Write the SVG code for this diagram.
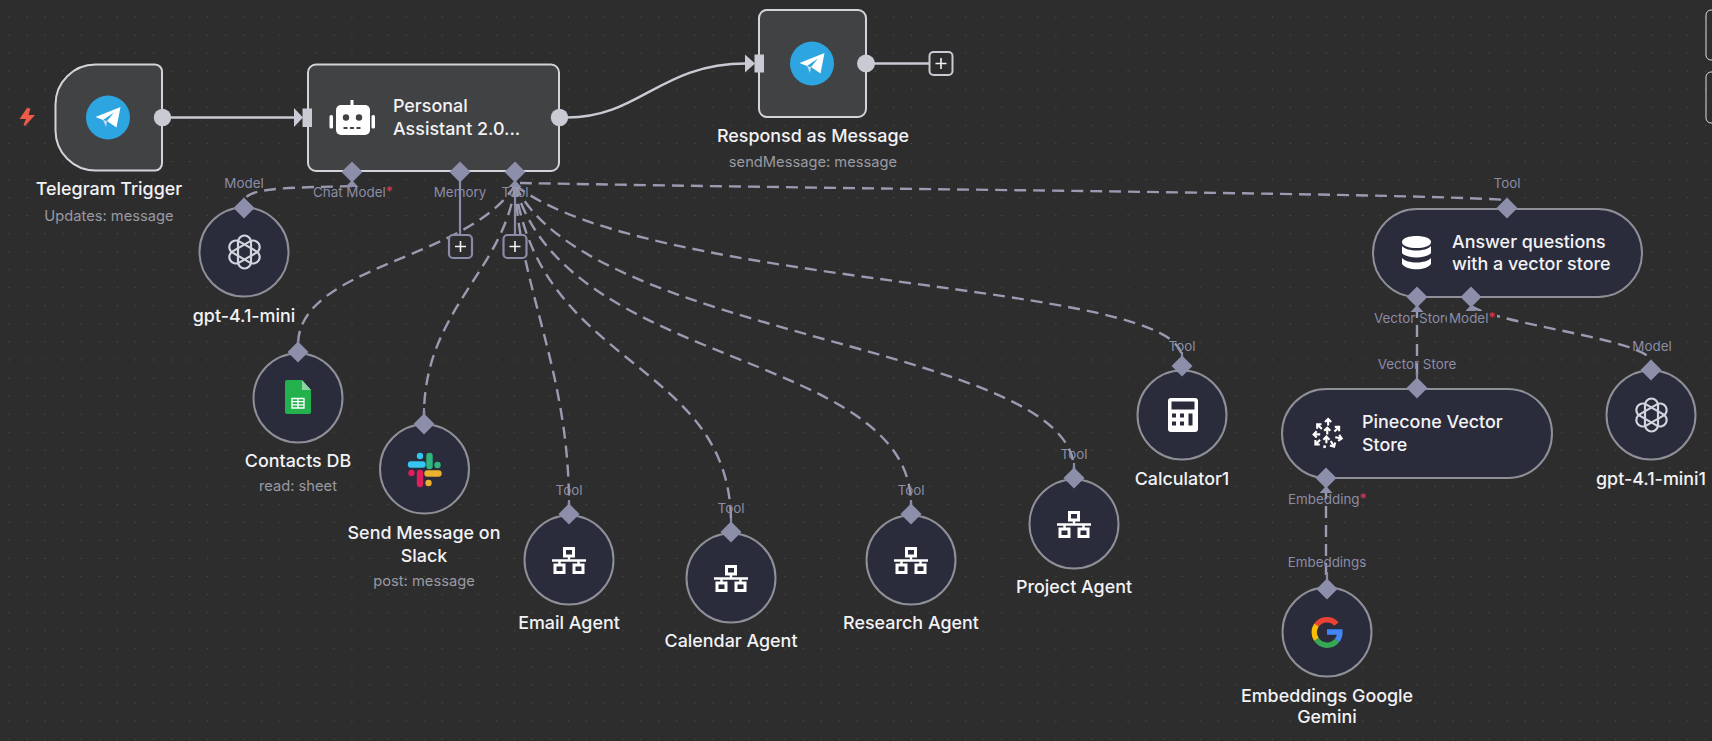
<svg xmlns="http://www.w3.org/2000/svg" xmlns:xlink="http://www.w3.org/1999/xlink" width="1712" height="741" viewBox="0 0 1712 741">
<style>
text{font-family:Inter,"Noto Sans","Liberation Sans",sans-serif}
.t{font-size:17.9px;font-weight:500;fill:#f2f2f5;text-anchor:middle}
.in{font-size:17.9px;font-weight:500;fill:#f2f2f5}
.s{font-size:14.7px;fill:#9a9aa3;text-anchor:middle}
.p{font-size:13.4px;fill:#8b8ca6;text-anchor:middle}
.pl{font-size:13.4px;fill:#8b8ca6}
.star{font-size:14px;fill:#e8344e}
.main{fill:#414244;stroke:#d3d4da;stroke-width:2}
.sub{fill:#2a2c3b;stroke:#8f8f98;stroke-width:2}
.d{fill:#8d8eaa}
.e{fill:none;stroke:#9a9ab0;stroke-width:2.4;stroke-dasharray:12 7}
.l{fill:none;stroke:#8a8ba8;stroke-width:2.2}
.m{fill:none;stroke:#c9cad3;stroke-width:2.4}
.port{fill:#c9cad3}
.plus{fill:#2d2d2d;stroke-width:2.2;stroke:#8a8ba8}
.cross{stroke:#f2f2f5;stroke-width:1.6}
</style>
<defs>
<pattern id="dots" width="18.05" height="18.05" patternUnits="userSpaceOnUse" x="0" y="-0.55">
<rect x="8.4" y="17.5" width="1.2" height="1.2" fill="#6a6a6a"/>
</pattern>
<polygon id="dia" class="d" points="0,-10.5 10.5,0 0,10.5 -10.5,0"/>
<polygon id="tri" class="d" points="0,8 6.5,15 -6.5,15"/>
<g id="tg">
<circle r="22" fill="#2ca5e0"/>
<path d="M-12.5,-0.5 L12.5,-10.5 L8.5,10 L-1,3.5 L6,-5 L-5,2.5 Z" fill="#fff"/>
<path d="M-5,2.500 L-1,3.500 L-2,9.500 Z" fill="#c9dcea"/>
</g>
<g id="oai" fill="none" stroke="#d3d5de" stroke-width="2.2">
<rect x="-6.500" y="-16.500" width="13" height="33" rx="6.500"/>
<rect x="-6.500" y="-16.500" width="13" height="33" rx="6.500" transform="rotate(60)"/>
<rect x="-6.500" y="-16.500" width="13" height="33" rx="6.500" transform="rotate(120)"/>
</g>
<g id="net" fill="none" stroke="#fff" stroke-width="3">
<rect x="-4.500" y="-11.500" width="9" height="7.500"/>
<path d="M0,-4 V0 M-17,0.500 H17 M-9.500,0 V4" stroke-width="2.400"/>
<path d="M9.500,0 V4" stroke-width="2.400"/>
<rect x="-14" y="5" width="9" height="7.500"/>
<rect x="5" y="5" width="9" height="7.500"/>
</g>
<path id="arw" d="M0,4 V-3 M-3.500,0 L0,-3.500 L3.500,0" fill="none" stroke="#fff" stroke-width="2.400"/>
</defs>
<rect width="1712" height="741" fill="#2d2d2d"/>
<rect width="1712" height="741" fill="url(#dots)"/>
<rect x="1706" y="10" width="30" height="50" rx="5" fill="none" stroke="#dcdcdc" stroke-width="1"/>
<rect x="1706" y="72" width="30" height="51" rx="5" fill="none" stroke="#dcdcdc" stroke-width="1"/>

<g id="connectors">
<path class="m" d="M170,117.500 H296"/>
<path class="m" d="M567,117.500 C640,117.500 660,63.500 746,63.500"/>
<path class="m" d="M874,63.500 H929"/>
<path class="l" d="M460,176 V235"/>
<path class="l" d="M515,176 V235"/>
<path class="e" d="M352,186 C300,188 244,186 244,202"/>
<path class="e" d="M520,183 C900,190 1400,193 1507,200"/>
<path class="e" d="M515,185 C470,260 298,265 298,345"/>
<path class="e" d="M515,185 C505,270 424,310 424,415"/>
<path class="e" d="M515,185 C520,290 569,370 569,505"/>
<path class="e" d="M515,185 C540,370 731,360 731,523"/>
<path class="e" d="M515,185 C565,370 911,350 911,505"/>
<path class="e" d="M515,185 C590,340 1074,345 1074,470"/>
<path class="e" d="M515,185 C650,290 1182,280 1182,358"/>
<path class="e" d="M1417,306 V380"/>
<path class="e" d="M1471,306 C1500,325 1652,340 1651,362"/>
<path class="e" d="M1326,487 V580"/>
<path class="l" d="M298,340 V352 M424,408 V424 M569,500 V514 M731,518 V532 M911,500 V514 M1074,463 V478 M1182,352 V366 M1417,372 V388 M1327,572 V589"/>
</g>

<g id="telegram-trigger">
<path class="main" d="M162,72 V163 A7,7 0 0 1 155,170.500 H95.500 A40,40 0 0 1 55.500,130.500 V104.500 A40,40 0 0 1 95.500,64.500 H155 A7,7 0 0 1 162,72 Z"/>
<use href="#tg" xlink:href="#tg" transform="translate(108,117.500)"/>
<circle class="port" cx="162.500" cy="117.500" r="8.700"/>
<polygon points="19.500,119 27,108 30.500,108.500 28.500,115 35,115 25,126 23.500,125 26,119" fill="#ee5a4a"/>
<text class="t" x="109" y="195">Telegram Trigger</text>
<text class="s" x="109" y="221">Updates: message</text>
</g>

<g id="personal-assistant">
<rect class="main" x="308" y="64.500" width="251" height="106.500" rx="8"/>
<polygon class="port" points="294,108 303,117.500 294,127"/>
<rect class="port" x="302.500" y="108.500" width="9.500" height="18.500"/>
<circle class="port" cx="559.500" cy="117.500" r="8.700"/>
<g fill="#fff">
<rect x="350.500" y="100" width="3" height="6"/>
<rect x="336" y="105" width="34" height="30" rx="5"/>
<rect x="329.500" y="115" width="3.500" height="13.500" rx="1.500"/>
<rect x="371.500" y="115" width="3.500" height="13.500" rx="1.500"/>
</g>
<circle cx="346" cy="117.500" r="3.200" fill="#414244"/>
<circle cx="359" cy="117.500" r="3.200" fill="#414244"/>
<path d="M343.500,128 H362" stroke="#414244" stroke-width="2" stroke-dasharray="4 2.500"/>
<text class="in" x="393" y="112">Personal</text>
<text class="in" x="393" y="135">Assistant 2.0...</text>
<use href="#dia" xlink:href="#dia" transform="translate(352,172)"/>
<use href="#dia" xlink:href="#dia" transform="translate(460,172)"/>
<use href="#dia" xlink:href="#dia" transform="translate(515,172)"/>
<use href="#tri" xlink:href="#tri" transform="translate(352,172)"/>
<use href="#tri" xlink:href="#tri" transform="translate(515,172)"/>
<text class="pl" x="313" y="197">Chat Model<tspan class="star">*</tspan></text>
<text class="p" x="460" y="197">Memory</text>
<text class="p" x="515" y="197">Tool</text>
</g>

<g id="plus-memory">
<rect class="plus" x="449" y="235" width="23" height="23" rx="4"/>
<path class="cross" d="M460.500,241 V252 M455,246.500 H466"/>
</g>
<g id="plus-tool">
<rect class="plus" x="503.500" y="235" width="23" height="23" rx="4"/>
<path class="cross" d="M515,241 V252 M509.500,246.500 H520.500"/>
</g>

<g id="respond-message">
<rect class="main" x="759" y="10" width="107" height="107" rx="8"/>
<polygon class="port" points="745,54.500 755,63.500 745,72.500"/>
<rect class="port" x="754.500" y="54.500" width="9.500" height="18"/>
<use href="#tg" xlink:href="#tg" transform="translate(812,63.500)"/>
<circle class="port" cx="866" cy="63.500" r="9"/>
<text class="t" x="813" y="142">Responsd as Message</text>
<text class="s" x="813" y="167">sendMessage: message</text>
</g>
<g id="plus-respond">
<rect x="929.500" y="52" width="23" height="23" rx="4" fill="#2d2d2d" stroke="#c9cad3" stroke-width="2"/>
<path class="cross" d="M941,58 V69 M935.500,63.500 H946.500"/>
</g>

<g id="gpt-mini">
<circle class="sub" cx="244" cy="252" r="44.500"/>
<use href="#oai" xlink:href="#oai" transform="translate(244.500,252)"/>
<use href="#dia" xlink:href="#dia" transform="translate(244,208)"/>
<text class="p" x="244" y="188">Model</text>
<text class="t" x="244" y="322">gpt-4.1-mini</text>
</g>

<g id="contacts-db">
<circle class="sub" cx="298" cy="398" r="44.500"/>
<path d="M287,380 H302 L311,390 V412 A2,2 0 0 1 309,414 H287 A2,2 0 0 1 285,412 V382 A2,2 0 0 1 287,380 Z" fill="#23b14d"/>
<path d="M302,380 L311,390 H302 Z" fill="#8ed1a3"/>
<path d="M292,398.500 H304 V408 H292 Z M292,401.700 H304 M292,404.900 H304 M298,398.500 V408" fill="none" stroke="#fff" stroke-width="1.300"/>
<use href="#dia" xlink:href="#dia" transform="translate(298,352)"/>
<text class="t" x="298" y="467">Contacts DB</text>
<text class="s" x="298" y="491">read: sheet</text>
</g>

<g id="send-slack">
<circle class="sub" cx="424.500" cy="469" r="44.500"/>
<g fill="none" stroke-linecap="round" stroke-width="6.400">
<path d="M411,464.500 H422.500" stroke="#36c5f0"/>
<path d="M429.500,456 V466" stroke="#2eb67d"/>
<path d="M427.500,473.500 H438.500" stroke="#ecb22e"/>
<path d="M420,473 V484" stroke="#e01e5a"/>
<path d="M420,456 V456.100" stroke="#36c5f0"/>
<path d="M437.500,465 V465.100" stroke="#2eb67d"/>
<path d="M428.500,483 V483.100" stroke="#ecb22e"/>
<path d="M411.500,473 V473.100" stroke="#e01e5a"/>
</g>
<use href="#dia" xlink:href="#dia" transform="translate(424,424)"/>
<text class="t" x="424" y="539">Send Message on</text>
<text class="t" x="424" y="562">Slack</text>
<text class="s" x="424" y="586">post: message</text>
</g>

<g id="email-agent">
<circle class="sub" cx="569" cy="560" r="44.500"/>
<use href="#net" xlink:href="#net" transform="translate(569,560)"/>
<use href="#dia" xlink:href="#dia" transform="translate(569,514)"/>
<text class="p" x="569" y="495">Tool</text>
<text class="t" x="569" y="629">Email Agent</text>
</g>
<g id="calendar-agent">
<circle class="sub" cx="731" cy="578" r="44.500"/>
<use href="#net" xlink:href="#net" transform="translate(731,578)"/>
<use href="#dia" xlink:href="#dia" transform="translate(731,532)"/>
<text class="p" x="731" y="513">Tool</text>
<text class="t" x="731" y="647">Calendar Agent</text>
</g>
<g id="research-agent">
<circle class="sub" cx="911" cy="560" r="44.500"/>
<use href="#net" xlink:href="#net" transform="translate(911,560)"/>
<use href="#dia" xlink:href="#dia" transform="translate(911,514)"/>
<text class="p" x="911" y="495">Tool</text>
<text class="t" x="911" y="629">Research Agent</text>
</g>
<g id="project-agent">
<circle class="sub" cx="1074" cy="524" r="44.500"/>
<use href="#net" xlink:href="#net" transform="translate(1074,524)"/>
<use href="#dia" xlink:href="#dia" transform="translate(1074,478)"/>
<text class="p" x="1074" y="459">Tool</text>
<text class="t" x="1074" y="593">Project Agent</text>
</g>
<g id="calculator">
<circle class="sub" cx="1182" cy="415" r="44.500"/>
<rect x="1168" y="398" width="30" height="34" rx="3" fill="#fff"/>
<g fill="#2a2c3b">
<rect x="1171.500" y="401.500" width="23" height="8"/>
<rect x="1172" y="413.500" width="4" height="4"/><rect x="1180" y="413.500" width="4" height="4"/>
<rect x="1172" y="421.500" width="4" height="4"/><rect x="1180" y="421.500" width="4" height="4"/>
<rect x="1188.500" y="413.500" width="4" height="12"/>
</g>
<use href="#dia" xlink:href="#dia" transform="translate(1182,366)"/>
<text class="p" x="1182" y="351">Tool</text>
<text class="t" x="1182" y="485">Calculator1</text>
</g>

<g id="answer-vector">
<rect class="sub" x="1373" y="209" width="269" height="88" rx="44"/>
<g fill="#fff">
<path d="M1402,242 C1402,234 1431,234 1431,242 C1431,250 1402,250 1402,242 Z"/>
<path d="M1402,246 C1407,252 1426,252 1431,246 V253 C1426,259 1407,259 1402,253 Z"/>
<path d="M1402,258 C1407,264 1426,264 1431,258 V264 C1426,271 1407,271 1402,264 Z"/>
</g>
<text class="in" x="1452" y="248">Answer questions</text>
<text class="in" x="1452" y="270">with a vector store</text>
<use href="#dia" xlink:href="#dia" transform="translate(1507,208)"/>
<use href="#dia" xlink:href="#dia" transform="translate(1417,297)"/>
<use href="#dia" xlink:href="#dia" transform="translate(1471,297)"/>
<use href="#tri" xlink:href="#tri" transform="translate(1417,297)"/>
<use href="#tri" xlink:href="#tri" transform="translate(1471,297)"/>
<text class="p" x="1507" y="188">Tool</text>
<text class="pl" x="1374" y="323">Vector Store</text>
<rect x="1447" y="311" width="50" height="16" fill="#2d2d2d"/>
<text class="pl" x="1449" y="323">Model<tspan class="star">*</tspan></text>
</g>

<g id="pinecone">
<rect class="sub" x="1282" y="389" width="270" height="89" rx="44.500"/>
<g transform="translate(1325.500,433.500) scale(0.88)">
<use href="#arw" xlink:href="#arw" transform="translate(3,-13)"/>
<use href="#arw" xlink:href="#arw" transform="translate(-7,-8) rotate(-45)"/>
<use href="#arw" xlink:href="#arw" transform="translate(13,-5) rotate(45)"/>
<use href="#arw" xlink:href="#arw" transform="translate(2,-3)"/>
<use href="#arw" xlink:href="#arw" transform="translate(-10,1) rotate(-90)"/>
<use href="#arw" xlink:href="#arw" transform="translate(15,5) rotate(100)"/>
<use href="#arw" xlink:href="#arw" transform="translate(1,7)"/>
<use href="#arw" xlink:href="#arw" transform="translate(-9,10) rotate(-135)"/>
<use href="#arw" xlink:href="#arw" transform="translate(8,12) rotate(150)"/>
<circle cx="-1" cy="15" r="1.700" fill="#fff"/>
</g>
<text class="in" x="1362" y="428">Pinecone Vector</text>
<text class="in" x="1362" y="451">Store</text>
<use href="#dia" xlink:href="#dia" transform="translate(1417,388)"/>
<use href="#dia" xlink:href="#dia" transform="translate(1326,478)"/>
<use href="#tri" xlink:href="#tri" transform="translate(1326,478)"/>
<text class="p" x="1417" y="369">Vector Store</text>
<text class="pl" x="1288" y="504">Embedding<tspan class="star">*</tspan></text>
</g>

<g id="gpt-mini1">
<circle class="sub" cx="1651" cy="415" r="44.500"/>
<use href="#oai" xlink:href="#oai" transform="translate(1651.500,415)"/>
<use href="#dia" xlink:href="#dia" transform="translate(1651,370)"/>
<text class="p" x="1652" y="351">Model</text>
<text class="t" x="1651" y="485">gpt-4.1-mini1</text>
</g>

<g id="embeddings-gemini">
<circle class="sub" cx="1327" cy="632" r="44.500"/>
<g fill="none" stroke-width="5.500">
<path d="M1336.500,624 A12.800,12.800 0 0 0 1316.500,625" stroke="#ea4335"/>
<path d="M1316.500,625 A12.800,12.800 0 0 0 1316.500,639.500" stroke="#fbbc05"/>
<path d="M1316.500,639.500 A12.800,12.800 0 0 0 1337,640.500" stroke="#34a853"/>
<path d="M1337,640.500 A12.800,12.800 0 0 0 1339.800,632 H1327" stroke="#4285f4"/>
</g>
<use href="#dia" xlink:href="#dia" transform="translate(1327,589)"/>
<text class="p" x="1327" y="567">Embeddings</text>
<text class="t" x="1327" y="702">Embeddings Google</text>
<text class="t" x="1327" y="723">Gemini</text>
</g>
</svg>
